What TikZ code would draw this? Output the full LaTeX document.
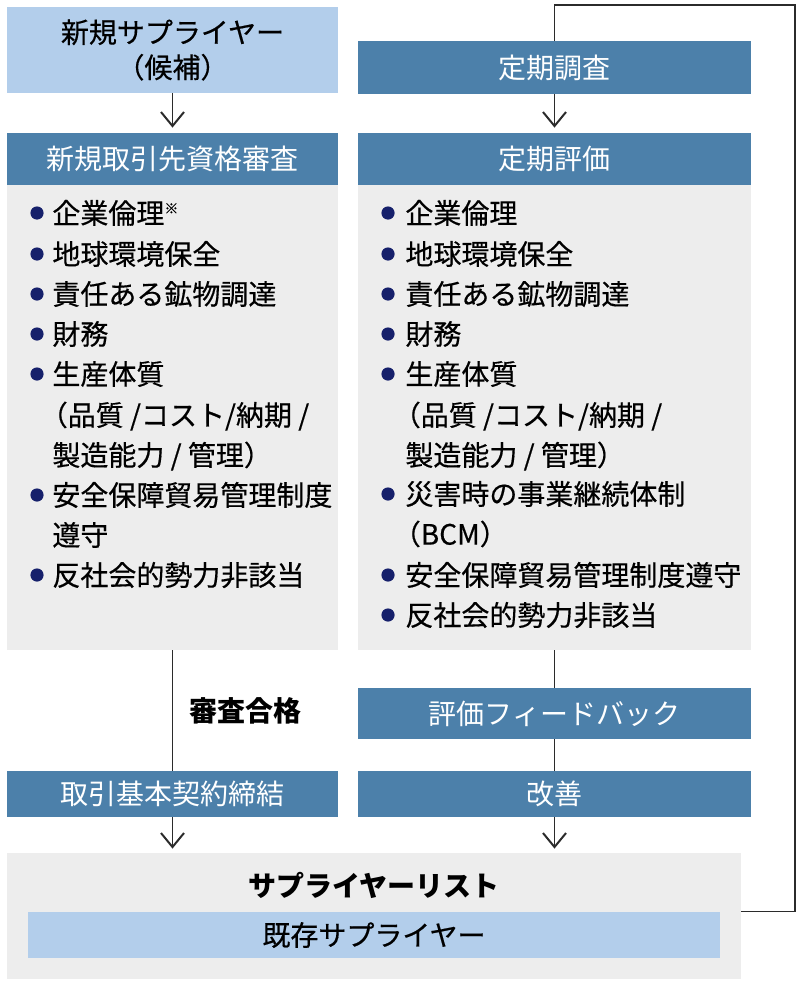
\documentclass[tikz,border=0pt]{standalone}
\usepackage{fontspec}
\setmainfont{Noto Sans CJK JP}
\newfontfamily\jpmed{Noto Sans CJK JP}[FakeBold=0.45]
\usepackage{xcolor}
\usetikzlibrary{arrows.meta}

\definecolor{hdrblue}{HTML}{4C80AA}
\definecolor{paleblue}{HTML}{B3CEEB}
\definecolor{panelgray}{HTML}{EDEDED}
\definecolor{dotnavy}{HTML}{16206B}
\definecolor{wire}{HTML}{2B2B2B}

\tikzset{
  box/.style={rectangle, inner sep=0pt, font=\fontsize{14}{17.5}\selectfont},
  hdr/.style={box, fill=hdrblue, text=white},
  pale/.style={box, fill=paleblue, text=black, align=center, font=\jpmed\fontsize{14}{17.5}\selectfont},
  panel/.style={box, fill=panelgray},
  item/.style={anchor=west, inner sep=0pt, text height=12.3pt, text depth=1.7pt,
    font=\jpmed\fontsize{14}{17.5}\selectfont},
  dot/.style={fill=dotnavy},
  wireline/.style={draw=wire, line width=0.7pt},
  arr/.style={wireline, -{Straight Barb[length=7pt, width=11.5pt, line width=1pt]}}
}

\begin{document}
\begin{tikzpicture}[x=0.5pt, y=-0.5pt]
    \useasboundingbox (0,0) rectangle (800,985);

    % left column
    \node[pale, minimum width=165.5pt, minimum height=43pt] (cand) at (172.5,50) {新規サプライヤー\\（候補）};
    \node[hdr, minimum width=165.5pt, minimum height=26pt] (screen) at (172.5,159) {新規取引先資格審査};
    \node[panel, minimum width=165.5pt, minimum height=232.5pt] (lbody) at (172.5,417.5) {};
    \node[hdr, minimum width=165.5pt, minimum height=23pt] (contract) at (172.5,794) {取引基本契約締結};

    % right column
    \node[hdr, minimum width=196.5pt, minimum height=26.5pt] (survey) at (554.5,67.5) {定期調査};
    \node[hdr, minimum width=196.5pt, minimum height=26pt] (eval) at (554.5,159) {定期評価};
    \node[panel, minimum width=196.5pt, minimum height=232.5pt] (rbody) at (554.5,417.5) {};
    \node[hdr, minimum width=196.5pt, minimum height=25.5pt] (fb) at (554.5,713.5) {評価フィードバック};
    \node[hdr, minimum width=196.5pt, minimum height=23pt] (kaizen) at (554.5,794) {改善};

    % supplier list
    \node[panel, minimum width=367pt, minimum height=63pt] (list) at (374,916) {};
    \node[box, font=\fontsize{14}{17.5}\selectfont\bfseries] (listname) at (374,885) {サプライヤーリスト};
    \node[pale, minimum width=346pt, minimum height=23pt] (exist) at (374,935) {既存サプライヤー};

    % left items
    \fill[dot] (37,213) circle (3.3pt); \node[item] (l1) at (52,213) {企業倫理\raisebox{5pt}{\fontsize{7}{7}\selectfont ※}};
    \fill[dot] (37,254) circle (3.3pt); \node[item] (l2) at (52,254) {地球環境保全};
    \fill[dot] (37,294) circle (3.3pt); \node[item] (l3) at (52,294) {責任ある鉱物調達};
    \fill[dot] (37,334) circle (3.3pt); \node[item] (l4) at (52,334) {財務};
    \fill[dot] (37,374) circle (3.3pt); \node[item] (l5) at (52,374) {生産体質};
    \node[item] (l6) at (52,415) {\kern-0.45em（品質 /コスト/納期 /};
    \node[item] (l7) at (52,455) {製造能力 / 管理）};
    \fill[dot] (37,495) circle (3.3pt); \node[item] (l8) at (52,495) {安全保障貿易管理制度};
    \node[item] (l9) at (52,535) {遵守};
    \fill[dot] (37,575) circle (3.3pt); \node[item] (l10) at (52,575) {反社会的勢力非該当};

    % right items
    \fill[dot] (388,213) circle (3.3pt); \node[item] (r1) at (405,213) {企業倫理};
    \fill[dot] (388,254) circle (3.3pt); \node[item] (r2) at (405,254) {地球環境保全};
    \fill[dot] (388,294) circle (3.3pt); \node[item] (r3) at (405,294) {責任ある鉱物調達};
    \fill[dot] (388,334) circle (3.3pt); \node[item] (r4) at (405,334) {財務};
    \fill[dot] (388,374) circle (3.3pt); \node[item] (r5) at (405,374) {生産体質};
    \node[item] (r6) at (405,415) {\kern-0.45em（品質 /コスト/納期 /};
    \node[item] (r7) at (405,455) {製造能力 / 管理）};
    \fill[dot] (388,494) circle (3.3pt); \node[item] (r8) at (405,494) {災害時の事業継続体制};
    \node[item] (r9) at (405,534) {\kern-0.45em（BCM）};
    \fill[dot] (388,575) circle (3.3pt); \node[item] (r10) at (405,575) {安全保障貿易管理制度遵守};
    \fill[dot] (388,615) circle (3.3pt); \node[item] (r11) at (405,615) {反社会的勢力非該当};

    % connectors
    \draw[arr, shorten >=2.5pt] (cand) -- (screen);
    \draw[wireline] (lbody) -- node[right=5pt, font=\fontsize{14}{17.5}\selectfont\bfseries] (pass) {審査合格} (contract);
    \draw[arr, shorten >=2pt] (contract.south) -- (contract.south |- list.north);
    \draw[arr, shorten >=2.5pt] (survey) -- (eval);
    \draw[wireline] (rbody) -- (fb);
    \draw[wireline] (fb) -- (kaizen);
    \draw[arr, shorten >=2pt] (kaizen.south) -- (kaizen.south |- list.north);
    \coordinate (loop) at (795,5);
    \draw[wireline] (list.east |- exist.north) -| (loop) -| (survey.north);
\end{tikzpicture}
\end{document}
